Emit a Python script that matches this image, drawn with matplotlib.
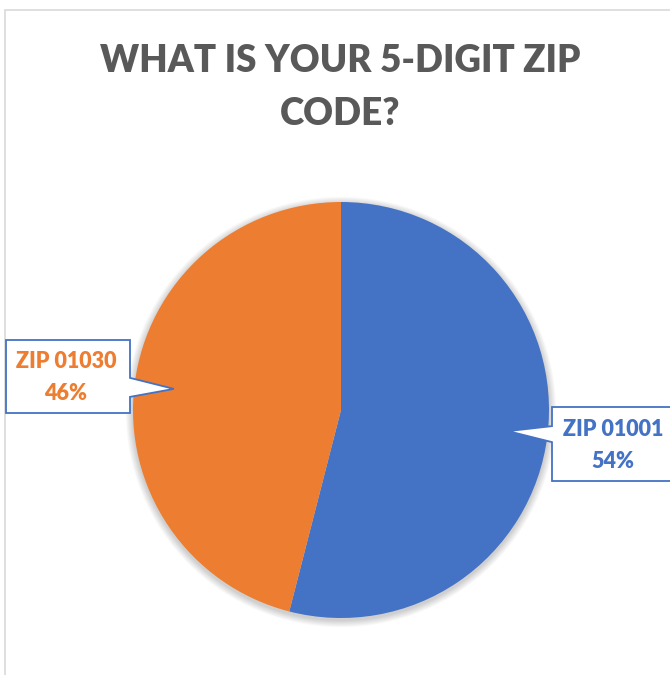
import numpy as np
import matplotlib
matplotlib.use("Agg")
import matplotlib.pyplot as plt
from matplotlib.patches import Circle, Polygon, Rectangle


WIDTH_PX = 670
HEIGHT_PX = 675
DPI = 100

TITLE_LINES = ["WHAT IS YOUR 5-DIGIT ZIP", "CODE?"]
CATEGORIES = ["ZIP 01001", "ZIP 01030"]
SHARES = [54, 46]
COLORS = ["#4472C4", "#ED7D31"]

TITLE_COLOR = "#595959"
CALLOUT_EDGE = "#4472C4"
FONT = "Lato"


def to_y(y_px: float) -> float:
    # screen pixels (top-down) -> data y (bottom-up)
    return HEIGHT_PX - y_px


def draw_frame(ax) -> None:
    ax.add_patch(Rectangle((4.5, to_y(800)), 800, 790, fill=False,
                           edgecolor="#D9D9D9", linewidth=1.2, zorder=0))


def draw_title(ax) -> None:
    baselines = [72, 125]
    for line, base in zip(TITLE_LINES, baselines):
        ax.text(340, to_y(base), line, ha="center", va="baseline",
                fontsize=26.5, fontweight="heavy", color=TITLE_COLOR,
                family=FONT)


def draw_shadow(ax, cx: float, cy: float, r: float) -> None:
    for k in range(1, 9):
        ax.add_patch(Circle((cx, cy - 2), r + k * 0.9, color="black",
                            alpha=0.025, linewidth=0, zorder=1))


def draw_callout(ax, box, tip, side, label, color, text_cx) -> None:
    x0, y0, x1, y1 = box  # screen coords
    tx, ty = tip
    if side == "right":
        pts = [(x0, y0), (x1, y0), (x1, ty - 11), (tx, ty), (x1, ty + 8),
               (x1, y1), (x0, y1)]
    else:
        pts = [(x0, y0), (x1, y0), (x1, y1), (x0, y1), (x0, ty + 11),
               (tx, ty), (x0, ty - 5)]
    ax.add_patch(Polygon([(x, to_y(y)) for x, y in pts], closed=True,
                         facecolor="white", edgecolor=CALLOUT_EDGE,
                         linewidth=1.3, zorder=4))
    name, pct = label
    mid = (y0 + y1) / 2
    for txt, dy in ((name, -16), (pct, 16)):
        ax.text(text_cx, to_y(mid + dy - 1), txt, ha="center",
                va="center_baseline", fontsize=15.5, fontweight="heavy",
                color=color, family=FONT, zorder=5)


def main() -> None:
    fig = plt.figure(figsize=(WIDTH_PX / DPI, HEIGHT_PX / DPI), dpi=DPI)
    ax = fig.add_axes([0, 0, 1, 1])

    cx, cy, r = 341, to_y(410), 208
    draw_shadow(ax, cx, cy, r)

    wedges, _ = ax.pie(SHARES, colors=COLORS, startangle=90,
                       counterclock=False, center=(cx, cy), radius=r,
                       wedgeprops={"linewidth": 0, "zorder": 2})

    ax.set_xlim(0, WIDTH_PX)
    ax.set_ylim(0, HEIGHT_PX)
    ax.set_aspect("equal")
    ax.axis("off")

    draw_frame(ax)
    draw_title(ax)

    # pointer tips along each wedge's middle angle
    tips = []
    for w in wedges:
        mid = np.deg2rad((w.theta1 + w.theta2) / 2)
        px = cx + 0.81 * r * np.cos(mid)
        py = cy + 0.81 * r * np.sin(mid)
        tips.append((px, HEIGHT_PX - py))

    boxes = [(552, 407, 700, 481), (6, 340, 130, 413)]
    sides = ["left", "right"]
    text_centers = [613, 66]
    for i, name in enumerate(CATEGORIES):
        draw_callout(ax, boxes[i], tips[i], sides[i],
                     (name, f"{SHARES[i]}%"), COLORS[i], text_centers[i])

    fig.savefig("out.png", dpi=DPI, facecolor="white")


if __name__ == "__main__":
    main()
